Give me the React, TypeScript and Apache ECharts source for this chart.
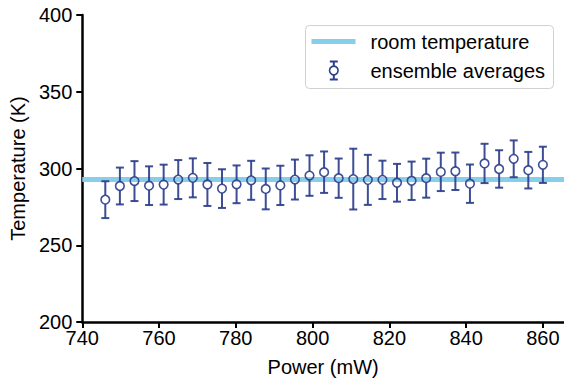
import React, { useEffect, useRef } from "react";
import * as echarts from "echarts";

const powerValues = [
  746, 749.8, 753.6, 757.4, 761.2, 765, 768.8, 772.6, 776.4, 780.2, 784,
  787.8, 791.6, 795.4, 799.2, 803, 806.8, 810.6, 814.4, 818.2, 822, 825.8,
  829.6, 833.4, 837.2, 841, 844.8, 848.6, 852.4, 856.2, 860,
];
const tempMeans = [
  279.7, 288.6, 291.8, 288.8, 289.5, 292.8, 293.9, 289.6, 286.9, 289.7, 292.3,
  286.7, 289.0, 292.8, 295.4, 297.6, 293.7, 293.1, 292.6, 292.6, 290.7, 292.0,
  293.7, 297.8, 298.2, 290.1, 303.3, 299.7, 306.3, 298.9, 302.4,
];
const tempErrors = [
  12, 12, 13, 12.6, 13, 12.7, 12.7, 14, 12.6, 12.3, 12.7, 13.3, 12.8, 13, 13.2,
  13.5, 12.8, 19.8, 16.3, 12.5, 12.3, 12.5, 12.7, 12.5, 12.2, 12.5, 12.8, 12.2,
  12, 11.9, 11.8,
];
const roomTemperature = 293.2;
const xTickValues = [740, 760, 780, 800, 820, 840, 860];
const yTickValues = [200, 250, 300, 350, 400];
const legendLabels = ["room temperature", "ensemble averages"];

const FONT = "'Liberation Sans', Arial, Helvetica, sans-serif";
const DARK = "#2c3f8c";
const SKY = "#87CEEB";

export default function App() {
  const ref = useRef<HTMLDivElement>(null);
  useEffect(() => {
    if (!ref.current) return;
    const chart = echarts.init(ref.current, undefined, { renderer: "svg" });
    const data = powerValues.map((p, i) => [p, tempMeans[i], tempErrors[i]]);
    const axisText = { color: "#000", fontSize: 20, fontFamily: FONT };
    chart.setOption({
      animation: false,
      backgroundColor: "#fff",
      grid: { left: 81, right: 0, top: 15, bottom: 54, containLabel: false },
      xAxis: {
        type: "value",
        min: 740,
        max: 865.5,
        name: "Power (mW)",
        nameLocation: "middle",
        nameGap: 35,
        nameTextStyle: axisText,
        splitLine: { show: false },
        axisLine: { show: true, onZero: false, lineStyle: { color: "#000", width: 2.5 } },
        axisTick: { show: true, length: 6, lineStyle: { color: "#000", width: 2 }, customValues: xTickValues },
        axisLabel: { ...axisText, margin: 6, customValues: xTickValues },
      },
      yAxis: {
        type: "value",
        min: 200,
        max: 400,
        interval: 50,
        name: "Temperature (K)",
        nameLocation: "middle",
        nameGap: 48,
        nameTextStyle: axisText,
        splitLine: { show: false },
        axisLine: { show: true, onZero: false, lineStyle: { color: "#000", width: 2.5 } },
        axisTick: { show: true, length: 6, lineStyle: { color: "#000", width: 2 }, customValues: yTickValues },
        axisLabel: { ...axisText, margin: 10, customValues: yTickValues },
      },
      series: [
        {
          name: legendLabels[0],
          type: "line",
          data: [],
          z: 1,
          markLine: {
            silent: true,
            z: 1,
            symbol: "none",
            label: { show: false },
            lineStyle: { color: SKY, width: 5, type: "solid", opacity: 1 },
            emphasis: { disabled: true },
            data: [{ yAxis: roomTemperature }],
          },
        },
        {
          name: legendLabels[1],
          type: "custom",
          z: 6,
          data,
          encode: { x: 0, y: 1 },
          renderItem: (params: any, api: any) => {
            const x = api.value(0);
            const y = api.value(1);
            const e = api.value(2);
            const c = api.coord([x, y]);
            const top = api.coord([x, y + e]);
            const bot = api.coord([x, y - e]);
            const r = 4.3;
            const cap = 4;
            const st = { stroke: DARK, lineWidth: 2, fill: "none", opacity: 0.92 };
            return {
              type: "group",
              children: [
                { type: "line", shape: { x1: c[0], y1: top[1], x2: c[0], y2: c[1] - r }, style: st },
                { type: "line", shape: { x1: c[0], y1: c[1] + r, x2: c[0], y2: bot[1] }, style: st },
                { type: "line", shape: { x1: c[0] - cap, y1: top[1], x2: c[0] + cap, y2: top[1] }, style: st },
                { type: "line", shape: { x1: c[0] - cap, y1: bot[1], x2: c[0] + cap, y2: bot[1] }, style: st },
                { type: "circle", shape: { cx: c[0], cy: c[1], r }, style: { stroke: DARK, lineWidth: 1.6, fill: "none", opacity: 0.92 } },
              ],
            };
          },
        },
      ],
      graphic: [
        {
          type: "group",
          left: 305,
          top: 25,
          z: 100,
          children: [
            { type: "rect", shape: { x: 0, y: 0, width: 248, height: 63, r: 4 }, style: { fill: "rgba(255,255,255,0.85)", stroke: "#d0d0d0", lineWidth: 1 } },
            { type: "line", shape: { x1: 6, y1: 16, x2: 50, y2: 16 }, style: { stroke: SKY, lineWidth: 5 } },
            { type: "text", x: 65, y: 16, style: { text: legendLabels[0], fill: "#000", font: `20px ${FONT}`, textVerticalAlign: "middle" } },
            { type: "line", shape: { x1: 28.3, y1: 36, x2: 28.3, y2: 40.7 }, style: { stroke: DARK, lineWidth: 2 } },
            { type: "line", shape: { x1: 28.3, y1: 49.3, x2: 28.3, y2: 54 }, style: { stroke: DARK, lineWidth: 2 } },
            { type: "line", shape: { x1: 24.3, y1: 36, x2: 32.3, y2: 36 }, style: { stroke: DARK, lineWidth: 2 } },
            { type: "line", shape: { x1: 24.3, y1: 54, x2: 32.3, y2: 54 }, style: { stroke: DARK, lineWidth: 2 } },
            { type: "circle", shape: { cx: 28.3, cy: 45, r: 4.3 }, style: { stroke: DARK, lineWidth: 1.6, fill: "none" } },
            { type: "text", x: 65, y: 45, style: { text: legendLabels[1], fill: "#000", font: `20px ${FONT}`, textVerticalAlign: "middle" } },
          ],
        },
      ],
    });
    return () => chart.dispose();
  }, []);
  return <div ref={ref} style={{ width: 564, height: 382, position: "absolute", left: 0, top: 0 }} />;
}
